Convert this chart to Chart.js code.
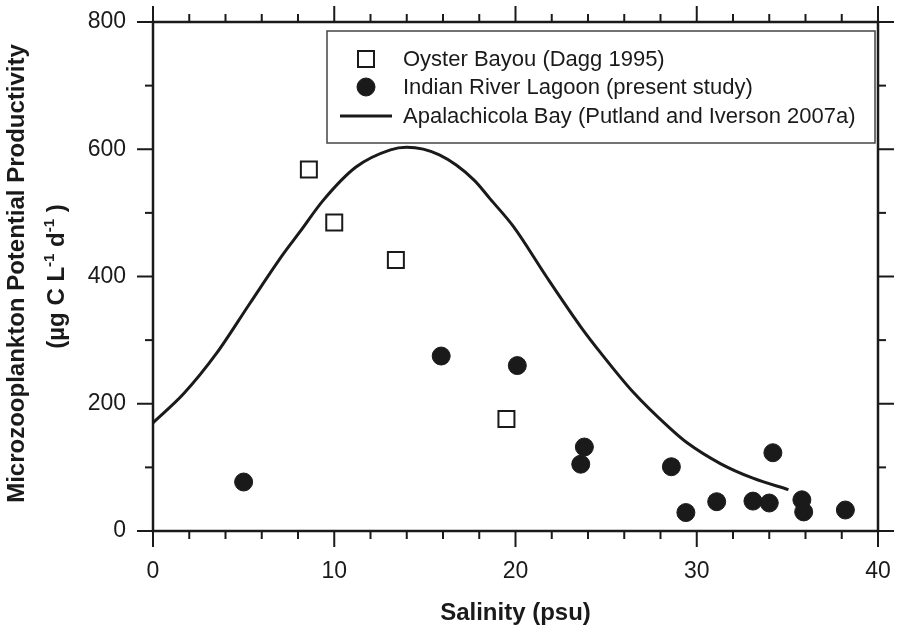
<!DOCTYPE html>
<html>
<head>
<meta charset="utf-8">
<script src="https://cdn.jsdelivr.net/npm/chart.js@4/dist/chart.umd.min.js"></script>
<style>
  html, body { margin: 0; padding: 0; background: #fff; }
  #wrap { width: 900px; height: 633px; }
</style>
</head>
<body>
<div id="wrap"><canvas id="productivityChart" width="900" height="633"></canvas></div>
<script>
// values
const oysterSalinity = [8.6, 10.0, 13.4, 19.5];
const oysterProd = [568, 485, 426, 176];

const lagoonSalinity = [5.0, 15.9, 20.1, 23.8, 23.6, 28.6, 29.4, 31.1, 33.1, 34.0, 34.2, 35.8, 35.9, 38.2];
const lagoonProd = [77, 275, 260, 132, 105, 101, 29, 46, 47, 44, 123, 49, 30, 33];

const apalachicolaSalinity = [0, 1.7, 3.5, 5.35, 7.2, 8.1, 9.4, 11.2, 13.1, 14.0, 15.8, 17.7, 18.6, 19.9, 21.7, 23.6, 24.7, 26.5, 28.5, 29.45, 31.3, 33.1, 35.06];
const apalachicolaProd = [170, 216, 279, 358, 436, 470, 520, 572, 599, 603, 591, 552, 522, 478, 400, 321, 280, 218, 162, 139, 106, 83, 65];

const xTickLabels = [0, 10, 20, 30, 40];
const xMinorTicks = [2, 4, 6, 8, 12, 14, 16, 18, 22, 24, 26, 28, 32, 34, 36, 38];
const yTickLabels = [0, 200, 400, 600, 800];
const yMinorTicks = [100, 300, 500, 700];

const seriesLabels = [
  'Oyster Bayou (Dagg 1995)',
  'Indian River Lagoon (present study)',
  'Apalachicola Bay (Putland and Iverson 2007a)'
];

const ink = '#1a1a1a';
const fontFamily = '"Liberation Sans", Arial, sans-serif';

function toPoints(xs, ys) {
  return xs.map((x, i) => ({ x: x, y: ys[i] }));
}

// axis box with outward ticks on all four sides
const framePlugin = {
  id: 'frame',
  afterDatasetsDraw(chart) {
    const { ctx, chartArea: a, scales } = chart;
    ctx.save();
    ctx.strokeStyle = ink;
    ctx.lineCap = 'butt';
    ctx.lineWidth = 2;
    const tick = (x1, y1, x2, y2) => { ctx.beginPath(); ctx.moveTo(x1, y1); ctx.lineTo(x2, y2); ctx.stroke(); };
    xTickLabels.forEach(v => {
      const px = scales.x.getPixelForValue(v);
      tick(px, a.bottom, px, a.bottom + 16);
      tick(px, a.top, px, a.top - 16);
    });
    xMinorTicks.forEach(v => {
      const px = scales.x.getPixelForValue(v);
      tick(px, a.bottom, px, a.bottom + 8);
      tick(px, a.top, px, a.top - 8);
    });
    yTickLabels.forEach(v => {
      const py = scales.y.getPixelForValue(v);
      tick(a.left, py, a.left - 16, py);
      tick(a.right, py, a.right + 16, py);
    });
    yMinorTicks.forEach(v => {
      const py = scales.y.getPixelForValue(v);
      tick(a.left, py, a.left - 8, py);
      tick(a.right, py, a.right + 8, py);
    });
    ctx.lineWidth = 2.5;
    ctx.strokeRect(a.left, a.top, a.right - a.left, a.bottom - a.top);
    ctx.restore();
  }
};

// boxed legend in the upper right of the plot
const boxLegendPlugin = {
  id: 'boxLegend',
  afterDraw(chart) {
    const { ctx } = chart;
    const box = { left: 327, top: 31, right: 875, bottom: 143 };
    const rows = [59, 87, 116];
    ctx.save();
    ctx.fillStyle = '#fff';
    ctx.fillRect(box.left, box.top, box.right - box.left, box.bottom - box.top);
    ctx.strokeStyle = '#444';
    ctx.lineWidth = 1.5;
    ctx.strokeRect(box.left, box.top, box.right - box.left, box.bottom - box.top);
    chart.data.datasets.forEach((ds, i) => {
      const y = rows[i];
      if (ds.showLine) {
        ctx.strokeStyle = ds.borderColor;
        ctx.lineWidth = ds.borderWidth;
        ctx.beginPath();
        ctx.moveTo(340, y);
        ctx.lineTo(392, y);
        ctx.stroke();
      } else {
        ctx.fillStyle = ds.backgroundColor;
        ctx.strokeStyle = ds.borderColor;
        ctx.lineWidth = ds.borderWidth;
        Chart.helpers.drawPoint(ctx, { pointStyle: ds.pointStyle, radius: ds.pointRadius, borderWidth: ds.borderWidth }, 366, y);
      }
      ctx.fillStyle = ink;
      ctx.font = '22px ' + fontFamily;
      ctx.textBaseline = 'middle';
      ctx.textAlign = 'left';
      ctx.fillText(ds.label, 403, y + 1);
    });
    ctx.restore();
  }
};

// two-line rotated y title with superscripts
const yTitlePlugin = {
  id: 'yTitle',
  afterDraw(chart) {
    const { ctx, chartArea: a } = chart;
    const cy = (a.top + a.bottom) / 2;
    const main = 'bold 24px ' + fontFamily;
    const sup = 'bold 15px ' + fontFamily;
    ctx.save();
    ctx.fillStyle = ink;
    ctx.textBaseline = 'alphabetic';

    ctx.save();
    ctx.translate(24, cy - 3);
    ctx.rotate(-Math.PI / 2);
    ctx.font = main;
    ctx.textAlign = 'center';
    ctx.fillText('Microzooplankton Potential Productivity', 0, 0);
    ctx.restore();

    const parts = [
      { t: '(\u00b5g C L', f: main, dy: 0 },
      { t: '-1', f: sup, dy: -10 },
      { t: ' d', f: main, dy: 0 },
      { t: '-1', f: sup, dy: -10 },
      { t: ' )', f: main, dy: 0 }
    ];
    let total = 0;
    parts.forEach(p => { ctx.font = p.f; p.w = ctx.measureText(p.t).width; total += p.w; });
    ctx.save();
    ctx.translate(64, cy);
    ctx.rotate(-Math.PI / 2);
    ctx.textAlign = 'left';
    let x = -total / 2;
    parts.forEach(p => { ctx.font = p.f; ctx.fillText(p.t, x, p.dy); x += p.w; });
    ctx.restore();
    ctx.restore();
  }
};

const chart = new Chart(document.getElementById('productivityChart'), {
  type: 'scatter',
  data: {
    datasets: [
      {
        label: seriesLabels[0],
        data: toPoints(oysterSalinity, oysterProd),
        pointStyle: 'rect',
        pointRadius: 11.3,
        pointHoverRadius: 11.3,
        backgroundColor: '#fff',
        borderColor: ink,
        borderWidth: 2,
        showLine: false
      },
      {
        label: seriesLabels[1],
        data: toPoints(lagoonSalinity, lagoonProd),
        pointStyle: 'circle',
        pointRadius: 9,
        pointHoverRadius: 9,
        backgroundColor: ink,
        borderColor: ink,
        borderWidth: 1,
        showLine: false
      },
      {
        label: seriesLabels[2],
        data: toPoints(apalachicolaSalinity, apalachicolaProd),
        showLine: true,
        pointRadius: 0,
        borderColor: ink,
        backgroundColor: ink,
        borderWidth: 3,
        cubicInterpolationMode: 'monotone',
        fill: false
      }
    ]
  },
  options: {
    responsive: false,
    animation: false,
    events: [],
    layout: { padding: { top: 22, right: 22, left: 0, bottom: 0 } },
    plugins: {
      legend: { display: false },
      tooltip: { enabled: false }
    },
    scales: {
      x: {
        type: 'linear',
        min: 0,
        max: 40,
        afterBuildTicks: s => { s.ticks = xTickLabels.map(v => ({ value: v })); },
        afterFit: s => { s.height = 102; s.paddingLeft = 0; s.paddingRight = 0; },
        grid: { display: false, drawTicks: false },
        border: { display: false },
        ticks: { color: ink, padding: 27, font: { family: fontFamily, size: 23 } },
        title: {
          display: true,
          text: 'Salinity (psu)',
          color: ink,
          padding: { top: 0, bottom: 5 },
          font: { family: fontFamily, size: 24, weight: 'bold' }
        }
      },
      y: {
        type: 'linear',
        min: 0,
        max: 800,
        afterBuildTicks: s => { s.ticks = yTickLabels.map(v => ({ value: v })); },
        afterFit: s => { s.width = 153; s.paddingTop = 0; s.paddingBottom = 0; },
        grid: { display: false, drawTicks: false },
        border: { display: false },
        ticks: { color: ink, padding: 27, font: { family: fontFamily, size: 23 } }
      }
    }
  },
  plugins: [framePlugin, yTitlePlugin, boxLegendPlugin]
});
</script>
</body>
</html>
